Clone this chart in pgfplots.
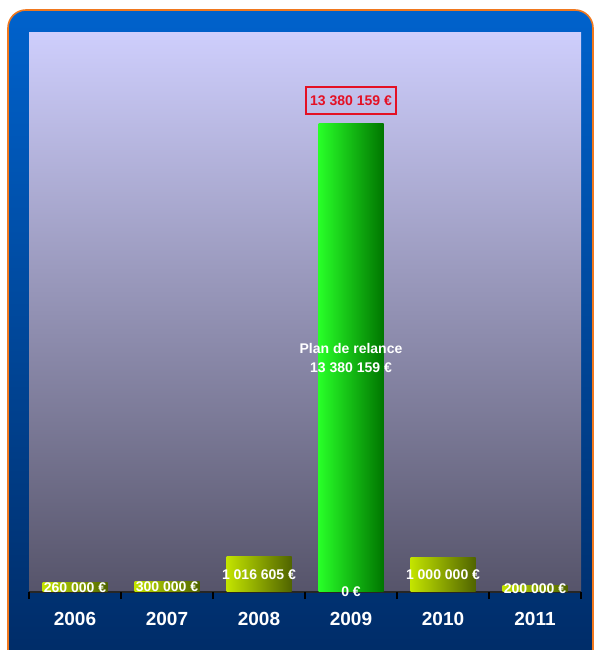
\documentclass[border=0pt]{standalone}
\usepackage{pgfplots}
\pgfplotsset{compat=1.18}
\usepackage{fontspec}
\setmainfont{Liberation Sans}
\definecolor{frameTop}{RGB}{0,98,204}
\definecolor{frameBot}{RGB}{0,42,100}
\definecolor{bgTop}{RGB}{206,206,252}
\definecolor{bgBot}{RGB}{86,84,106}
\definecolor{barL}{RGB}{195,228,0}
\definecolor{barR}{RGB}{80,100,0}
\definecolor{grL}{RGB}{40,255,40}
\definecolor{grR}{RGB}{0,118,0}
\definecolor{boxRed}{RGB}{228,16,36}
\definecolor{rim}{RGB}{240,120,30}
\begin{document}
\begin{tikzpicture}[x=1pt,y=1pt]
\fill[white] (0,0) rectangle (595,650);
\begin{scope}
\clip (0,0) rectangle (595,650);
\draw[draw=rim, line width=1.6pt, rounded corners=18pt, top color=frameTop, bottom color=frameBot] (8,-30) rectangle (593,640);
\end{scope}
\begin{axis}[at={(29pt,58pt)}, anchor=south west, scale only axis,
  width=552pt, height=559pt,
  xmin=-0.5, xmax=5.5, ymin=0, ymax=15982000,
  axis background/.style={top color=bgTop, bottom color=bgBot},
  axis y line=none, axis x line*=bottom,
  axis line style={-, black!85, line width=1.3pt},
  xtick={0,1,2,3,4,5},
  xticklabels={2006,2007,2008,2009,2010,2011},
  major tick length=0pt,
  extra x ticks={-0.5,0.5,1.5,2.5,3.5,4.5,5.5},
  extra x tick labels={},
  extra x tick style={major tick length=7pt, tick align=outside,
    tick style={black, line width=1.4pt}},
  /pgf/number format/assume math mode=true,
  xticklabel style={font=\fontsize{19}{21}\selectfont\bfseries, text=white, yshift=-17pt},
  clip=false,
  bar width=65pt,
  mybar/.style={ybar, bar shift=0pt, draw=none, left color=barL, right color=barR}]
\addplot[mybar] coordinates {(0,260000)};
\addplot[mybar] coordinates {(1,300000)};
\addplot[mybar] coordinates {(2,1016605)};
\addplot[mybar] coordinates {(4,1000000)};
\addplot[mybar] coordinates {(5,200000)};
\addplot[ybar, bar shift=0pt, draw=none, left color=grL, right color=grR]
  coordinates {(3,13380159)};
% total label
\addplot[draw=none, mark=none, nodes near coords={13 380 159 €},
  every node near coord/.style={anchor=south, yshift=9pt, draw=boxRed, line width=1.6pt,
    text=boxRed, font=\fontsize{14}{16}\selectfont\bfseries, minimum width=90pt, minimum height=27pt, inner sep=2pt}]
  coordinates {(3,13380159)};
% plan de relance label
\addplot[draw=none, mark=none, nodes near coords={Plan de relance\\13 380 159 €},
  every node near coord/.style={anchor=center, align=center, text=white,
    font=\fontsize{14}{19}\selectfont\bfseries}]
  coordinates {(3,6690080)};
% value labels
\addplot[draw=none, mark=none, point meta=explicit symbolic, nodes near coords,
  every node near coord/.style={anchor=center, text=white, font=\fontsize{14}{16}\selectfont\bfseries}]
  table[col sep=comma, row sep=\\, meta=label] {
x,y,label\\
0,130000,260 000 €\\
1,150000,300 000 €\\
2,508302,1 016 605 €\\
3,0,0 €\\
4,500000,1 000 000 €\\
5,100000,200 000 €\\
};
\end{axis}
\pgfresetboundingbox
\path[use as bounding box] (0,0) rectangle (595,650);
\end{tikzpicture}
\end{document}
